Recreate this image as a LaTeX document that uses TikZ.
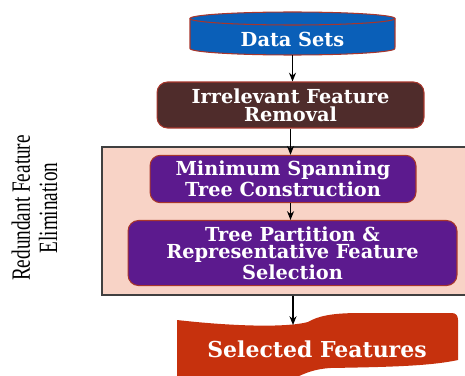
\documentclass[tikz,border=0pt]{standalone}
\usepackage{fontspec}
\usepackage{graphicx}
\setmainfont{Liberation Serif}
\newfontfamily\boxfont{DejaVu Serif}
\usetikzlibrary{arrows.meta}

\definecolor{dsblue}{HTML}{0A5FB8}
\definecolor{irbrown}{HTML}{4F2C2B}
\definecolor{mstpurple}{HTML}{5C1A8E}
\definecolor{pinkbg}{HTML}{F8D3C6}
\definecolor{selred}{HTML}{C6310D}
\definecolor{edgered}{HTML}{A8362C}

\tikzset{
  stage/.style={rounded corners=6pt, draw=edgered, line width=0.6pt, text=white, align=center,
    font=\boxfont\bfseries\fontsize{11}{10.2}\selectfont},
  flow/.style={draw=black, line width=0.7pt, -{Stealth[length=5pt,width=4pt]}}
}

\begin{document}
\begin{tikzpicture}[x=0.02cm, y=-0.02cm]
  \useasboundingbox (0,0) rectangle (465,375);
  % elimination block
  \node[draw=black!75, fill=pinkbg, line width=0.8pt, minimum width=7.36cm, minimum height=2.96cm] (red) at (286,221) {};
  \node[rotate=90, inner sep=0pt, font=\fontsize{15}{15.6}\selectfont] (redlbl) at (38,208)
    {\scalebox{0.73}[1]{\begin{tabular}{@{}c@{}}Redundant Feature\\Elimination\end{tabular}}};
  % data sets cylinder
  \fill[dsblue] (190,18.5) -- (190,48.5) arc[start angle=180, end angle=360, x radius=2.05cm, y radius=0.13cm] -- (395,18.5) -- cycle;
  \draw[edgered, line width=0.6pt] (190,18.5) -- (190,48.5) arc[start angle=180, end angle=360, x radius=2.05cm, y radius=0.13cm] -- (395,18.5);
  \filldraw[fill=dsblue, draw=edgered, line width=0.6pt] (292.5,18.5) ellipse[x radius=2.05cm, y radius=0.13cm];
  \node[text=white, font=\boxfont\bfseries\fontsize{11}{10}\selectfont, minimum width=4.1cm, minimum height=0.64cm] (data) at (292.5,39) {Data Sets};
  % steps
  \node[stage, fill=irbrown, minimum width=5.34cm, minimum height=0.92cm] (irrel) at (290.5,105) {Irrelevant Feature\\Removal};
  \node[stage, fill=mstpurple, minimum width=5.32cm, minimum height=0.92cm] (mst) at (283,179) {Minimum Spanning\\Tree Construction};
  \node[stage, fill=mstpurple, minimum width=6.58cm, minimum height=1.28cm] (part) at (292.5,253) {Tree Partition \&\\Representative Feature\\Selection};
  % selected features tape
  \fill[selred] (177,320) .. controls (230,326) and (285,328) .. (308,322) .. controls (318,316) and (332,313) .. (360,313)
    -- (452,313) .. controls (456,313) and (458,316) .. (458,320) -- (458,360)
    .. controls (430,366) and (390,367) .. (330,368) .. controls (315,369) and (305,373) .. (295,378) -- (177,385) -- cycle;
  \node[text=white, font=\boxfont\bfseries\fontsize{12.5}{12}\selectfont] (sel) at (317,349) {Selected Features};
  \coordinate (seltop) at (293,325);
  % arrows
  \draw[flow] (data.south) -- (data.south |- irrel.north);
  \draw[flow] (irrel.south) -- (irrel.south |- mst.north);
  \draw[flow] (mst.south -| irrel.south) -- (irrel.south |- part.north);
  \draw[flow] (red.south -| seltop) -- (seltop);
\end{tikzpicture}
\end{document}
